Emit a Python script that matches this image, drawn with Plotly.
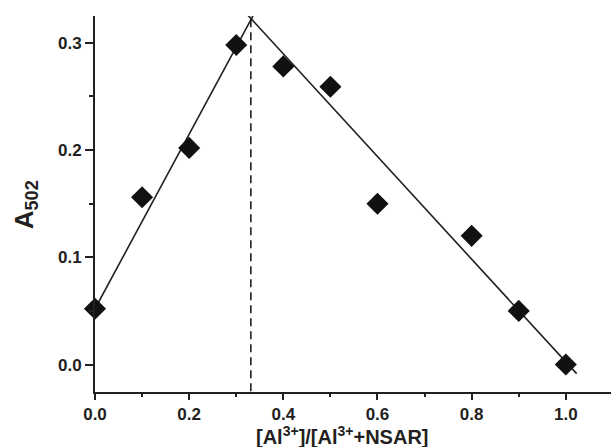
import plotly.graph_objects as go

# Data
ratio = [0.0, 0.1, 0.2, 0.3, 0.4, 0.5, 0.6, 0.8, 0.9, 1.0]
absorbance = [0.052, 0.156, 0.202, 0.298, 0.278, 0.259, 0.150, 0.120, 0.050, 0.000]

# Linear fits (endpoints)
fit_left_x = [0.0, 0.336]
fit_left_y = [0.052, 0.3255]
fit_right_x = [0.318, 1.023]
fit_right_y = [0.329, -0.0085]

# Job's plot maximum
max_x = [0.331, 0.331]
max_y = [0.322, -0.0256]

x_ticks = [0.0, 0.2, 0.4, 0.6, 0.8, 1.0]
x_tick_text = ["0.0", "0.2", "0.4", "0.6", "0.8", "1.0"]
y_ticks = [0.0, 0.1, 0.2, 0.3]
y_tick_text = ["0.0", "0.1", "0.2", "0.3"]

ink = "#231f20"
font = "Liberation Sans, Arial, sans-serif"

fig = go.Figure()
fig.add_trace(go.Scatter(x=max_x, y=max_y, mode="lines",
                         line=dict(color=ink, width=1.6, dash="8px,5px"),
                         hoverinfo="skip", showlegend=False, cliponaxis=False))
fig.add_trace(go.Scatter(x=fit_left_x, y=fit_left_y, mode="lines",
                         line=dict(color=ink, width=1.6),
                         showlegend=False, cliponaxis=False))
fig.add_trace(go.Scatter(x=fit_right_x, y=fit_right_y, mode="lines",
                         line=dict(color=ink, width=1.6),
                         showlegend=False, cliponaxis=False))
fig.add_trace(go.Scatter(x=ratio, y=absorbance, mode="markers",
                         marker=dict(symbol="diamond", size=17, color="#111111",
                                     line=dict(width=0)),
                         showlegend=False, cliponaxis=False))

fig.update_layout(
    width=611, height=447,
    margin=dict(l=95, r=0, t=16, b=55),
    plot_bgcolor="white", paper_bgcolor="white",
    font=dict(family=font, color=ink),
    xaxis=dict(
        range=[0, 1.096], showgrid=False, zeroline=False, automargin=False,
        showline=True, linecolor=ink, linewidth=2,
        tickmode="array", tickvals=x_ticks, ticktext=x_tick_text,
        ticks="outside", ticklen=6, tickwidth=1.5, tickcolor=ink,
        minor=dict(dtick=0.1, tick0=0, ticks="outside", ticklen=3, tickwidth=1.5, tickcolor=ink),
        tickfont=dict(size=17, family=font, color=ink, weight="bold"),
    ),
    yaxis=dict(
        range=[-0.0256, 0.325], showgrid=False, zeroline=False, automargin=False,
        showline=True, linecolor=ink, linewidth=2,
        tickmode="array", tickvals=y_ticks, ticktext=y_tick_text,
        ticks="outside", ticklen=8, tickwidth=1.5, tickcolor=ink,
        minor=dict(dtick=0.05, tick0=0, ticks="outside", ticklen=4, tickwidth=1.5, tickcolor=ink),
        tickfont=dict(size=17, family=font, color=ink, weight="bold"),
    ),
    annotations=[
        dict(text="<b>[Al<sup>3+</sup>]/[Al<sup>3+</sup>+NSAR]</b>",
             xref="paper", yref="paper", x=0.479, y=-0.117,
             xanchor="center", yanchor="middle", showarrow=False,
             font=dict(size=20, family=font, color=ink)),
        dict(text="<b>A<sub>502</sub></b>",
             xref="paper", yref="paper", x=-0.1357, y=0.499, textangle=-90,
             xanchor="center", yanchor="middle", showarrow=False,
             font=dict(size=26, family=font, color=ink)),
    ],
)

fig.write_html("out.html", config={"displayModeBar": False},
               post_script="document.body.style.margin='0';document.body.style.overflow='hidden';")
